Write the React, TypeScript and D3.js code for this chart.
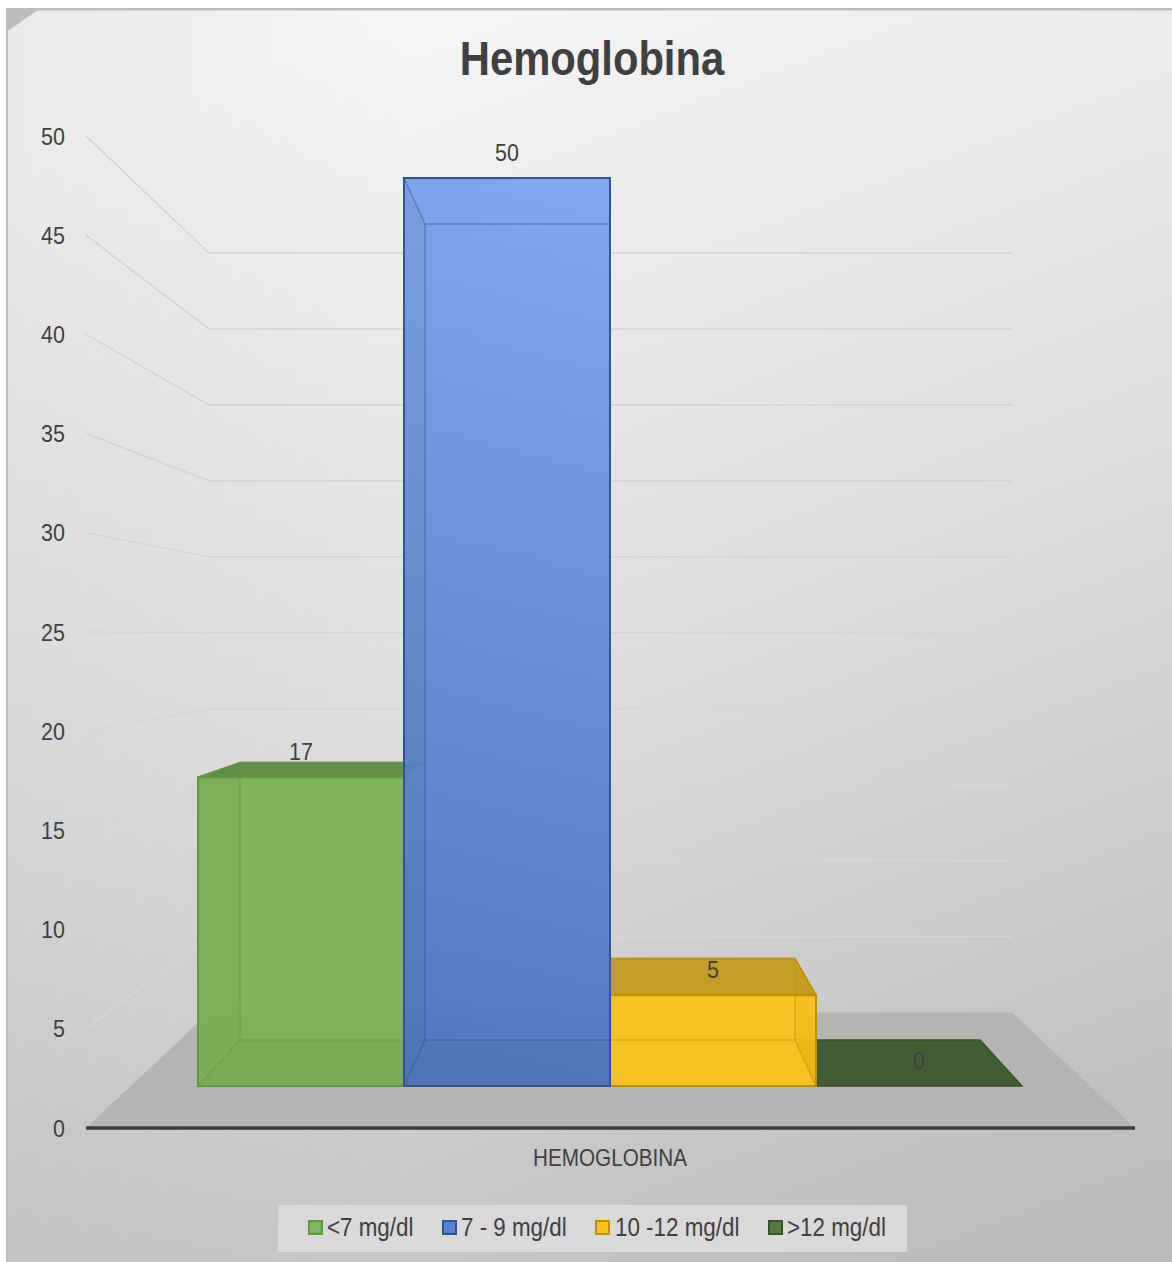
import React from "react";
import * as d3 from "d3";

const chartTitle = "Hemoglobina";
const categoryLabel = "HEMOGLOBINA";
const seriesNames = ["<7 mg/dl", "7 - 9 mg/dl", "10 -12 mg/dl", ">12 mg/dl"];
const seriesValues = [17, 50, 5, 0];
const tickValues = [0, 5, 10, 15, 20, 25, 30, 35, 40, 45, 50];
const strokeColors = ["#5f9a3c", "#2f5597", "#bf9000", "#375623"];
const frontColors = ["#7ab055", "url(#blueFace)", "#fcc21a", "#4a6a38"];
const topColors = ["#5f8c42", "#7aa3ea", "#c49a1c", "#425c33"];
const floorShade = [0.03, 0.03, 0, 0];
const legendSwatch = ["#7fb55c", "#5b82cc", "#fcc21a", "#567a42"];
const legendSwatchX = [309, 443, 596, 769];
const legendTextX = [327, 461, 615, 787];
const drawOrder = [0, 3, 2, 1];

const FONT = "'Liberation Sans', sans-serif";
const TEXT = "#404040";
const GRID = "#d5d5d5";
const NARROW = 0.895;

// Scales of the four planes of the 3D box
const yAxis = d3.scaleLinear().domain([0, 50]).range([1128, 136]);
const yWall = d3.scaleLinear().domain([0, 50]).range([1012.5, 253]);
const yFront = d3.scaleLinear().domain([0, 50]).range([1086, 178]);
const yBack = d3.scaleLinear().domain([0, 50]).range([1040, 224]);
const xFront = d3.scaleLinear().domain([0, 4]).range([198, 1022]);
const xBack = d3.scaleLinear().domain([0, 4]).range([240, 980]);

const pts = (a: [number, number][]) => a.map((p) => p.join(",")).join(" ");

function T({ x, y, sx = NARROW, children, ...rest }: any) {
  return (
    <text transform={`translate(${x},${y}) scale(${sx},1)`} {...rest}>{children}</text>
  );
}

function Bar({ i }: { i: number }) {
  const v = seriesValues[i];
  const fx0 = xFront(i), fx1 = xFront(i + 1), bx0 = xBack(i), bx1 = xBack(i + 1);
  const fb = yFront(0), ft = yFront(v), bb = yBack(0), bt = yBack(v);
  const stroke = strokeColors[i];
  const seenFromAbove = bt < ft;
  return (
    <g>
      {v === 0 ? (
        <polygon points={pts([[fx0, fb], [fx1, fb], [bx1, bb], [bx0, bb]])} fill={topColors[i]} stroke={stroke} strokeWidth={1.5} />
      ) : (
        <>
          {seenFromAbove && (
            <polygon points={pts([[fx0, ft], [fx1, ft], [bx1, bt], [bx0, bt]])} fill={topColors[i]} fillOpacity={0.95} stroke={stroke} strokeWidth={1.5} />
          )}
          <rect x={fx0} y={ft} width={fx1 - fx0} height={fb - ft} fill={frontColors[i]} fillOpacity={0.94} />
          <polygon points={pts([[fx0, fb], [fx1, fb], [bx1, bb], [bx0, bb]])} fill="#000" fillOpacity={floorShade[i]} />
          <polygon points={pts([[fx0, fb], [fx0, ft], [bx0, bt], [bx0, bb]])} fill="#000" fillOpacity={i === 1 ? 0.03 : 0.01} />
          <polygon points={pts([[fx1, fb], [fx1, ft], [bx1, bt], [bx1, bb]])} fill={stroke} fillOpacity={i === 2 ? 0.1 : 0.02} />
          <g fill="none" stroke={stroke} strokeOpacity={0.45} strokeWidth={1.5}>
            <polyline points={pts([[bx0, bt], [bx1, bt], [bx1, bb], [bx0, bb], [bx0, bt]])} />
            <line x1={fx0} y1={fb} x2={bx0} y2={bb} />
            <line x1={fx1} y1={fb} x2={bx1} y2={bb} />
            <line x1={fx0} y1={ft} x2={bx0} y2={bt} />
            <line x1={fx1} y1={ft} x2={bx1} y2={bt} />
          </g>
          <rect x={fx0} y={ft} width={fx1 - fx0} height={fb - ft} fill="none" stroke={stroke} strokeWidth={2} />
        </>
      )}
    </g>
  );
}

export default function App() {
  return (
    <svg width={1172} height={1262} style={{ position: "absolute", left: 0, top: 0, background: "#fff" }} fontFamily={FONT}>
      <defs>
        <linearGradient id="bg" gradientUnits="userSpaceOnUse" x1={420} y1={0} x2={900} y2={1262}>
          <stop offset="0" stopColor="#f6f6f6" />
          <stop offset="0.5" stopColor="#dedede" />
          <stop offset="1" stopColor="#bdbdbd" />
        </linearGradient>
        <linearGradient id="edge" gradientUnits="userSpaceOnUse" x1={6} y1={0} x2={420} y2={0}>
          <stop offset="0" stopColor="#000" stopOpacity={0.05} />
          <stop offset="1" stopColor="#000" stopOpacity={0} />
        </linearGradient>
        <linearGradient id="blueFace" gradientUnits="userSpaceOnUse" x1={640} y1={178} x2={380} y2={1086}>
          <stop offset="0" stopColor="#7aa4ec" />
          <stop offset="1" stopColor="#4a72bd" />
        </linearGradient>
      </defs>

      <rect x={6} y={8} width={1166} height={1254} fill="#bdbdbd" />
      <polygon points={pts([[37, 10.5], [1172, 10.5], [1172, 1262], [8, 1262], [8, 31]])} fill="url(#bg)" />
      <polygon points={pts([[37, 10.5], [1172, 10.5], [1172, 1262], [8, 1262], [8, 31]])} fill="url(#edge)" />

      <g fill="none" stroke={GRID} strokeWidth={1.6}>
        {tickValues.slice(1).map((t) => (
          <polyline key={t} points={pts([[86, yAxis(t)], [209, yWall(t)], [1012, yWall(t)]])} />
        ))}
      </g>

      <polygon points={pts([[86, yAxis(0)], [209, yWall(0)], [1012, yWall(0)], [1135, yAxis(0)]])} fill="#b4b4b4" />

      {drawOrder.map((i) => (
        <Bar key={i} i={i} />
      ))}

      <line x1={86} x2={1135} y1={yAxis(0)} y2={yAxis(0)} stroke="#808080" strokeWidth={4} />
      <line x1={86} x2={1135} y1={yAxis(0)} y2={yAxis(0)} stroke="#3c3c3c" strokeWidth={3} />

      <g fontSize={24} fill={TEXT} textAnchor="end">
        {tickValues.map((t) => (
          <T key={t} x={65} y={yAxis(t) + 8.5}>{t}</T>
        ))}
      </g>

      <g fontSize={24} fill={TEXT} textAnchor="middle">
        {seriesValues.map((v, i) => (
          <T key={i} x={(xFront(i) + xFront(i + 1)) / 2} y={yFront(v) - 26 + 8.5}>{v}</T>
        ))}
      </g>

      <T x={592} y={75} sx={0.87} fontSize={48} fontWeight={700} fill={TEXT} textAnchor="middle">{chartTitle}</T>
      <T x={610} y={1166} sx={0.9} fontSize={23} fill={TEXT} textAnchor="middle">{categoryLabel}</T>

      <rect x={278} y={1205} width={629} height={47} fill="#d9d9d9" />
      {seriesNames.map((s, i) => (
        <g key={s}>
          <rect x={legendSwatchX[i]} y={1221} width={13} height={13} fill={legendSwatch[i]} stroke={strokeColors[i]} strokeWidth={2} />
          <T x={legendTextX[i]} y={1236} fontSize={25} fill={TEXT}>{s}</T>
        </g>
      ))}
    </svg>
  );
}
